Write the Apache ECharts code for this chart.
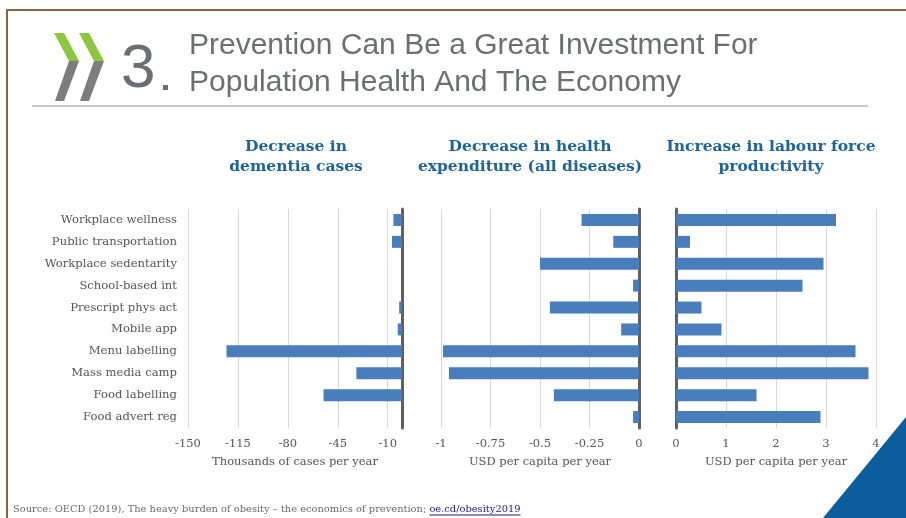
<!DOCTYPE html>
<html>
<head>
<meta charset="utf-8">
<script src="https://cdn.jsdelivr.net/npm/echarts@6/dist/echarts.min.js"></script>
<style>
  html, body { margin: 0; padding: 0; background: #ffffff; }
  #chart { width: 906px; height: 518px; }
</style>
</head>
<body>
<div id="chart"></div>
<script>
// Interventions, top to bottom
const categories = [
  'Workplace wellness', 'Public transportation', 'Workplace sedentarity',
  'School-based int', 'Prescript phys act', 'Mobile app', 'Menu labelling',
  'Mass media camp', 'Food labelling', 'Food advert reg'
];

// Thousands of dementia cases avoided per year (shown as decreases)
const dementiaCases = [-6, -7, 0, 0, -2, -3, -123, -32, -55, 0];

// Health expenditure change, USD per capita per year
const healthExpenditure = [-0.29, -0.13, -0.5, -0.03, -0.45, -0.09, -0.99, -0.96, -0.43, -0.03];

// Labour force productivity gain, USD per capita per year
const labourProductivity = [3.2, 0.28, 2.95, 2.53, 0.51, 0.91, 3.59, 3.85, 1.61, 2.89];

// Tick labels
const dementiaTicks = [-150, -115, -80, -45, -10];

const panelTitles = [
  'Decrease in\ndementia cases',
  'Decrease in health\nexpenditure (all diseases)',
  'Increase in labour force\nproductivity'
];
const axisNames = ['Thousands of cases per year', 'USD per capita per year', 'USD per capita per year'];

const sourceText = 'Source: OECD (2019), The heavy burden of obesity \u2013 the economics of prevention; ';
const sourceLink = 'oe.cd/obesity2019';

const SERIF = '"DejaVu Serif", "Liberation Serif", serif';
const SANS = '"Liberation Sans", Arial, sans-serif';
const BAR = '#4a7dbb';
const GRID_LINE = '#d9d9d9';
const AXIS_DARK = '#5f5f5f';
const TEXT_GREY = '#555555';
const TITLE_BLUE = '#1f6499';
const LINK_BLUE = '#1a1a96';

const chart = echarts.init(document.getElementById('chart'), null, { renderer: 'canvas' });

const gridTop = 209, gridHeight = 219;
const grids = [
  { left: 188, width: 214, top: gridTop, height: gridHeight },
  { left: 441, width: 198, top: gridTop, height: gridHeight },
  { left: 676, width: 200, top: gridTop, height: gridHeight }
];

function valueAxis(idx, extra) {
  return Object.assign({
    type: 'value',
    gridIndex: idx,
    name: axisNames[idx],
    nameLocation: 'middle',
    nameGap: 28,
    nameTextStyle: { fontFamily: SERIF, fontSize: 11.5, color: TEXT_GREY },
    axisLine: { show: false },
    axisTick: { show: false },
    axisLabel: { fontFamily: SERIF, fontSize: 11.5, color: TEXT_GREY, margin: 10 },
    splitLine: { show: true, lineStyle: { color: GRID_LINE, width: 1 } }
  }, extra);
}

function categoryAxis(idx, extra) {
  return Object.assign({
    type: 'category',
    gridIndex: idx,
    data: categories,
    inverse: true,
    axisTick: { show: false },
    axisLabel: { show: false },
    splitLine: { show: false },
    axisLine: { show: true, onZero: false, lineStyle: { color: AXIS_DARK, width: 3 } }
  }, extra);
}

function barSeries(idx, values, yIdx) {
  return {
    type: 'bar',
    xAxisIndex: idx,
    yAxisIndex: yIdx,
    data: values,
    barWidth: 12,
    itemStyle: { color: BAR },
    silent: true,
    animation: false
  };
}

const titleCenters = [296, 530, 771];

// Two-tone chevron: green upper stroke, grey lower stroke
function chevron(x0) {
  return [
    { type: 'polygon', shape: { points: [[x0, 33], [x0 + 10, 33], [x0 + 25, 61], [x0 + 15, 61]] },
      style: { fill: '#8cc63e' } },
    { type: 'polygon', shape: { points: [[x0 + 15, 61], [x0 + 25, 61], [x0 + 10, 101], [x0 + 1, 101]] },
      style: { fill: '#7d7d7d' } }
  ];
}

// Width of the source sentence, so the link follows it directly
const SOURCE_FONT = '9.9px ' + SERIF;
const measureCtx = document.createElement('canvas').getContext('2d');
measureCtx.font = SOURCE_FONT;
const sourceX = 13;
const linkX = sourceX + measureCtx.measureText(sourceText).width;
const linkW = measureCtx.measureText(sourceLink).width;

const option = {
  animation: false,
  backgroundColor: '#ffffff',
  grid: grids,
  xAxis: [
    valueAxis(0, {
      min: -150, max: 0,
      axisTick: { show: false, customValues: dementiaTicks },
      axisLabel: { fontFamily: SERIF, fontSize: 11.5, color: TEXT_GREY, margin: 10, customValues: dementiaTicks }
    }),
    valueAxis(1, { min: -1, max: 0, interval: 0.25 }),
    valueAxis(2, { min: 0, max: 4, interval: 1 })
  ],
  yAxis: [
    // Labels on the left of the first panel
    categoryAxis(0, {
      position: 'left',
      axisLine: { show: false },
      axisLabel: { show: true, fontFamily: SERIF, fontSize: 11.6, color: TEXT_GREY, margin: 11 }
    }),
    // Zero line at the right edge of the first panel
    categoryAxis(0, { position: 'right' }),
    categoryAxis(1, { position: 'right' }),
    categoryAxis(2, { position: 'left' })
  ],
  series: [
    barSeries(0, dementiaCases, 0),
    barSeries(1, healthExpenditure, 2),
    barSeries(2, labourProductivity, 3)
  ],
  graphic: [
    // Slide frame
    { type: 'polyline', shape: { points: [[7, 518], [7, 10], [906, 10]] },
      style: { stroke: '#8a6545', lineWidth: 2, fill: null } },
    // Chevron logo
    ...chevron(54),
    ...chevron(79),
    // Section number
    { type: 'text', left: 121, top: 39,
      style: { text: '3', font: '62px ' + SANS, fill: '#6d6e71' } },
    { type: 'rect', shape: { x: 163, y: 85, width: 5, height: 5 }, style: { fill: '#6d6e71' } },
    // Slide heading
    { type: 'text', left: 189, top: 31,
      style: { text: 'Prevention Can Be a Great Investment For', font: '30px ' + SANS, fill: '#6d6e71' } },
    { type: 'text', left: 189, top: 68,
      style: { text: 'Population Health And The Economy', font: '30px ' + SANS, fill: '#6d6e71' } },
    { type: 'line', shape: { x1: 32, y1: 106, x2: 868, y2: 106 }, style: { stroke: '#8f8f8f', lineWidth: 1 } },
    // Panel titles
    ...panelTitles.map((t, i) => ({
      type: 'text', x: titleCenters[i], y: 137,
      style: { text: t, font: 'bold 15.5px ' + SERIF, fill: TITLE_BLUE, align: 'center', lineHeight: 20 }
    })),
    // Corner accent
    { type: 'polygon', shape: { points: [[823, 518], [906, 417], [906, 518]] }, style: { fill: '#0b5e9b' } },
    // Source line
    { type: 'text', x: sourceX, y: 509,
      style: { text: sourceText, font: SOURCE_FONT, fill: '#6a6a6a', verticalAlign: 'middle' } },
    { type: 'text', x: linkX, y: 509,
      style: { text: sourceLink, font: SOURCE_FONT, fill: LINK_BLUE, verticalAlign: 'middle' } },
    { type: 'line', shape: { x1: linkX, y1: 515, x2: linkX + linkW, y2: 515 },
      style: { stroke: LINK_BLUE, lineWidth: 1 } }
  ]
};

chart.setOption(option);
</script>
</body>
</html>
